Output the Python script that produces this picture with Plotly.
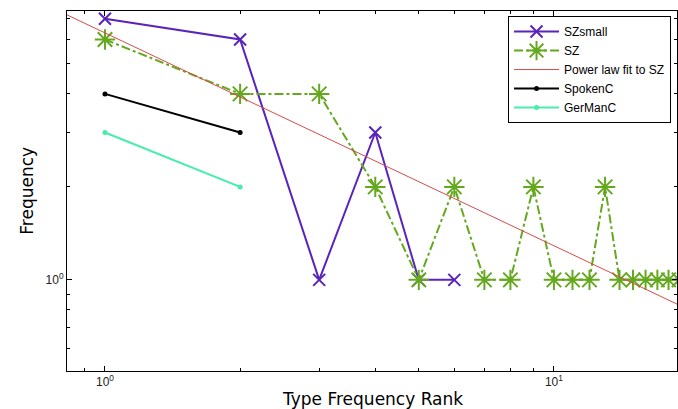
import math
import plotly.graph_objects as go

# ---- data ----
sz_small_rank = [1, 2, 3, 4, 5, 6]
sz_small_freq = [7, 6, 1, 3, 1, 1]

sz_rank = list(range(1, 20))
sz_freq = [6, 4, 4, 2, 1, 2, 1, 1, 2, 1, 1, 1, 2, 1, 1, 1, 1, 1, 1]

fit_rank = [0.8, 20]
fit_freq = [7.35, 0.80]

spoken_rank = [1, 2]
spoken_freq = [4, 3]

german_rank = [1, 2]
german_freq = [3, 2]

x_tickvals = [1, 10]
x_ticktext = ["10<sup>0</sup>", "10<sup>1</sup>"]
y_tickvals = [1]
y_ticktext = ["10<sup>0</sup>"]

PURPLE = "rgb(90,35,185)"
GREEN = "rgb(100,168,30)"
RED = "rgb(215,75,75)"
TEAL = "rgb(70,238,170)"

fig = go.Figure()
fig.add_trace(go.Scatter(x=sz_small_rank, y=sz_small_freq, name="SZsmall",
                         mode="lines+markers",
                         line=dict(color=PURPLE, width=2),
                         marker=dict(symbol="x-thin-open", size=12,
                                     line=dict(color=PURPLE, width=2))))
fig.add_trace(go.Scatter(x=sz_rank, y=sz_freq, name="SZ",
                         mode="lines+markers",
                         line=dict(color=GREEN, width=2, dash="dashdot"),
                         marker=dict(symbol="asterisk-open", size=17,
                                     line=dict(color=GREEN, width=2))))
fig.add_trace(go.Scatter(x=fit_rank, y=fit_freq, name="Power law fit to SZ",
                         mode="lines", line=dict(color=RED, width=1)))
fig.add_trace(go.Scatter(x=spoken_rank, y=spoken_freq, name="SpokenC",
                         mode="lines+markers",
                         line=dict(color="black", width=2),
                         marker=dict(symbol="circle", size=5, color="black")))
fig.add_trace(go.Scatter(x=german_rank, y=german_freq, name="GerManC",
                         mode="lines+markers",
                         line=dict(color=TEAL, width=2),
                         marker=dict(symbol="circle", size=5, color=TEAL)))

x_minor = [0.9, 2, 3, 4, 5, 6, 7, 8, 9, 20]
y_minor = [0.5, 0.6, 0.7, 0.8, 0.9, 2, 3, 4, 5, 6, 7, 8]

axis_common = dict(showgrid=False, zeroline=False, showline=True,
                   linecolor="black", linewidth=1, mirror="ticks",
                   ticks="inside", ticklen=5, tickcolor="black",
                   tickfont=dict(family="Liberation Sans, Arial", size=12, color="#222"))

fig.update_xaxes(type="log", range=[math.log10(0.823), math.log10(18.8)],
                 tickvals=x_tickvals, ticktext=x_ticktext,
                 minor=dict(tickvals=x_minor, ticks="inside", ticklen=3, tickcolor="black"),
                 **axis_common)
fig.update_yaxes(type="log", range=[math.log10(0.507), math.log10(7.42)],
                 tickvals=y_tickvals, ticktext=y_ticktext,
                 minor=dict(tickvals=y_minor, ticks="inside", ticklen=3, tickcolor="black"),
                 **axis_common)

fig.update_layout(
    width=678, height=409,
    margin=dict(l=67, r=1, t=11, b=38),
    paper_bgcolor="white", plot_bgcolor="white",
    showlegend=True,
    legend=dict(x=0.723, y=0.986, xanchor="left", yanchor="top",
                bgcolor="white", bordercolor="black", borderwidth=1,
                font=dict(family="Liberation Sans, Arial", size=12, color="black"),
                tracegroupgap=0, itemwidth=45),
    annotations=[
        dict(text="Type Frequency Rank", xref="paper", yref="paper",
             x=0.5, y=-0.077, xanchor="center", yanchor="middle", showarrow=False,
             font=dict(family="DejaVu Sans", size=17, color="black")),
        dict(text="Frequency", xref="paper", yref="paper",
             x=-0.066, y=0.5, xanchor="center", yanchor="middle", showarrow=False,
             textangle=-90,
             font=dict(family="DejaVu Sans", size=17, color="black")),
    ],
)

fig.write_html("out.html")
